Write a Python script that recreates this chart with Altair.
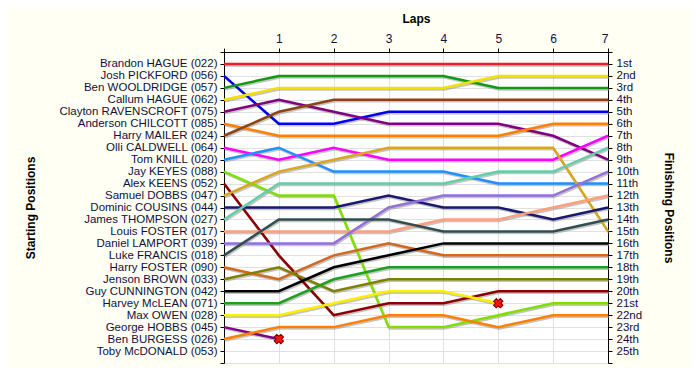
import json
import altair as alt
import pandas as pd

drivers = [
    "Brandon HAGUE (022)", "Josh PICKFORD (056)", "Ben WOOLDRIDGE (057)",
    "Callum HAGUE (062)", "Clayton RAVENSCROFT (075)", "Anderson CHILCOTT (085)",
    "Harry MAILER (024)", "Olli CALDWELL (064)", "Tom KNILL (020)",
    "Jay KEYES (088)", "Alex KEENS (052)", "Samuel DOBBS (047)",
    "Dominic COUSINS (044)", "James THOMPSON (027)", "Louis FOSTER (017)",
    "Daniel LAMPORT (039)", "Luke FRANCIS (018)", "Harry FOSTER (090)",
    "Jenson BROWN (033)", "Guy CUNNINGTON (042)", "Harvey McLEAN (071)",
    "Max OWEN (028)", "George HOBBS (045)", "Ben BURGESS (026)",
    "Toby McDONALD (053)",
]

colors = [
    "#e8202a", "#0000ee", "#109a10", "#f5e000", "#800080", "#ff8000",
    "#8b4513", "#ff00ff", "#1e90ff", "#7fe000", "#8b0000", "#daa520",
    "#191970", "#66cdaa", "#ffa07a", "#9370db", "#2f4f4f", "#d2691e",
    "#808000", "#000000", "#1ea01e", "#ffee00", "#800080", "#ff8000",
    "#999999",
]

laps = [0, 1, 2, 3, 4, 5, 6, 7]

lap_positions = [
    [1, 1, 1, 1, 1, 1, 1, 1],
    [2, 6, 6, 5, 5, 5, 5, 5],
    [3, 2, 2, 2, 2, 3, 3, 3],
    [4, 3, 3, 3, 3, 2, 2, 2],
    [5, 4, 5, 6, 6, 6, 7, 9],
    [6, 7, 7, 7, 7, 7, 6, 6],
    [7, 5, 4, 4, 4, 4, 4, 4],
    [8, 9, 8, 9, 9, 9, 9, 7],
    [9, 8, 10, 10, 10, 11, 11, 11],
    [10, 12, 12, 23, 23, 22, 21, 21],
    [11, 17, 22, 21, 21, 20, 20, 20],
    [12, 10, 9, 8, 8, 8, 8, 15],
    [13, 13, 13, 12, 13, 13, 14, 13],
    [14, 11, 11, 11, 11, 10, 10, 8],
    [15, 15, 15, 15, 14, 14, 13, 12],
    [16, 16, 16, 13, 12, 12, 12, 10],
    [17, 14, 14, 14, 15, 15, 15, 14],
    [18, 19, 17, 16, 17, 17, 17, 17],
    [19, 18, 20, 19, 19, 19, 19, 19],
    [20, 20, 18, 17, 16, 16, 16, 16],
    [21, 21, 19, 18, 18, 18, 18, 18],
    [22, 22, 21, 20, 20, 21],
    [23, 24],
    [24, 23, 23, 22, 22, 23, 22, 22],
    [],
]

retired_driver = ["George HOBBS (045)", "Max OWEN (028)"]
retired_lap = [1, 5]
retired_pos = [24, 21]

finish_labels = [
    "1st", "2nd", "3rd", "4th", "5th", "6th", "7th", "8th", "9th", "10th",
    "11th", "12th", "13th", "14th", "15th", "16th", "17th", "18th", "19th",
    "20th", "21st", "22nd", "23rd", "24th", "25th",
]

rows = []
for i, (d, pos) in enumerate(zip(drivers, lap_positions)):
    for lap, p in zip(laps, pos):
        rows.append({"driver": d, "idx": i, "lap": lap, "pos": p})
df = pd.DataFrame(rows)
ret = pd.DataFrame({"driver": retired_driver, "lap": retired_lap, "pos": retired_pos})

left_expr = json.dumps([""] + drivers + [""]) + "[datum.value]"
right_expr = json.dumps([""] + finish_labels + [""]) + "[datum.value]"

ticks_y = list(range(0, 27))
yscale = alt.Scale(domain=[0, 26], reverse=True, nice=False, zero=False)
xscale = alt.Scale(domain=[0, 7], nice=False, zero=False)

label_color = "#101040"
grid_color = "#e0e0e0"

x_axis = alt.Axis(
    orient="top", values=laps, labelExpr="datum.value == 0 ? '' : datum.label",
    title="Laps", titleY=-34, titleX=192, titleBaseline="middle",
    titleFontWeight="bold", titleFontSize=12,
    labelFontSize=12, labelPadding=3, tickSize=4, tickColor="black",
    domainColor="black", grid=True, gridColor=grid_color, labelColor=label_color,
    labelOverlap=False,
)

y_left = alt.Axis(
    orient="left", values=ticks_y, labelExpr=left_expr, title="Starting Positions",
    titleAngle=-90, titleX=-194, titleY=155.5, titleAlign="center",
    titleBaseline="middle", titleFontWeight="bold", titleFontSize=12,
    labelFontSize=11.5, labelPadding=3, tickSize=4, tickColor="black",
    domainColor="black", grid=True, gridColor=grid_color, labelColor=label_color,
    labelOverlap=False,
)

y_right = alt.Axis(
    orient="right", values=ticks_y, labelExpr=right_expr, title="Finishing Positions",
    titleAngle=90, titleX=60, titleY=155.5, titleAlign="center",
    titleBaseline="middle", titleFontWeight="bold", titleFontSize=12,
    labelFontSize=11.5, labelPadding=4, tickSize=4, tickColor="black",
    domainColor="black", grid=False, labelColor=label_color,
    labelOverlap=False,
)

color_enc = alt.Color("driver:N", scale=alt.Scale(domain=drivers, range=colors), legend=None)

shadow = alt.Chart(df).mark_line(
    color="#8a8a8a", opacity=0.5, strokeWidth=2.5, xOffset=1, yOffset=1.5
).encode(
    x=alt.X("lap:Q", scale=xscale, axis=x_axis),
    y=alt.Y("pos:Q", scale=yscale, axis=y_left),
    detail="driver:N",
    order="lap:Q",
)

lines = alt.Chart(df).mark_line(strokeWidth=2.5).encode(
    x=alt.X("lap:Q", scale=xscale, axis=x_axis),
    y=alt.Y("pos:Q", scale=yscale, axis=y_right),
    color=color_enc,
    order="lap:Q",
)

marks = alt.Chart(ret).mark_point(
    shape="cross", angle=45, filled=True, fill="#ff1010", stroke="#700000",
    strokeWidth=1, size=90, opacity=1
).encode(
    x=alt.X("lap:Q", scale=xscale, axis=x_axis),
    y=alt.Y("pos:Q", scale=yscale, axis=None),
)

chart = alt.layer(shadow, lines, marks).resolve_scale(y="independent").properties(
    width=384, height=311,
    padding={"left": 216, "top": 44, "right": 84, "bottom": 4},
    autosize=alt.AutoSizeParams(type="none"),
    background="#fffff3",
).configure_view(stroke=None, fill="white").configure_axis(
    labelFont="Liberation Sans", titleFont="Liberation Sans", titleColor="black"
)

chart.save("out.html", embed_options={"renderer": "svg", "actions": False})
